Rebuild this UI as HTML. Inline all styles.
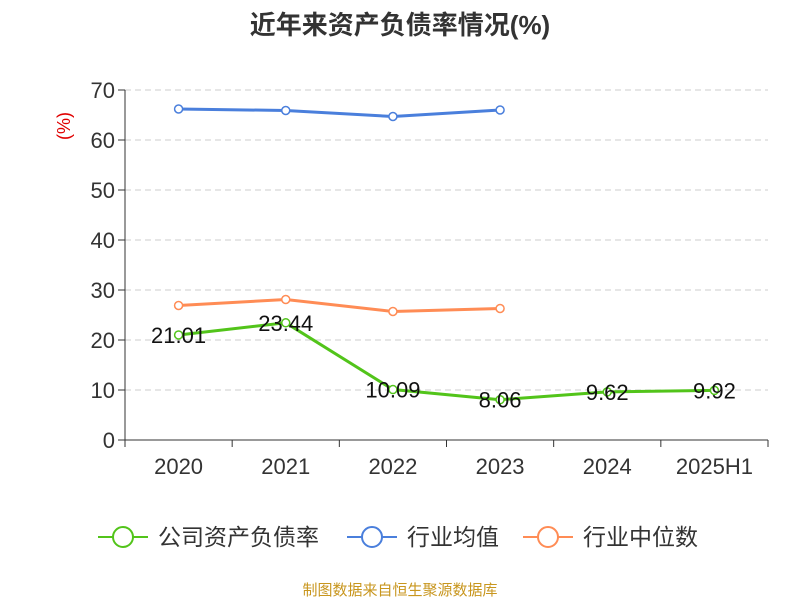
<!DOCTYPE html>
<html><head><meta charset="utf-8"><style>
body{margin:0;background:#fff;font-family:"Liberation Sans","Noto Sans CJK SC",sans-serif}
svg text{font-family:"Liberation Sans","Noto Sans CJK SC",sans-serif}
</style></head><body>
<svg id="c" width="800" height="600">
<text x="400" y="34" text-anchor="middle" font-size="26" font-weight="bold" fill="#333">近年来资产负债率情况(%)</text>
<text x="70" y="126" font-size="18" fill="#e00000" transform="rotate(-90 70 126)" text-anchor="middle">(%)</text>
<g id="grid"></g><g id="axes"></g><g id="series"></g>
<g>
<g><line x1="98" y1="537" x2="148" y2="537" stroke="#52c41a" stroke-width="2"/><circle cx="123" cy="537" r="10" fill="#fff" stroke="#52c41a" stroke-width="2"/><text x="158" y="545" font-size="23" fill="#333">公司资产负债率</text></g>
<g><line x1="347" y1="537" x2="397" y2="537" stroke="#4a7fdc" stroke-width="2"/><circle cx="372" cy="537" r="10" fill="#fff" stroke="#4a7fdc" stroke-width="2"/><text x="407" y="545" font-size="23" fill="#333">行业均值</text></g>
<g><line x1="523" y1="537" x2="573" y2="537" stroke="#ff8c55" stroke-width="2"/><circle cx="548" cy="537" r="10" fill="#fff" stroke="#ff8c55" stroke-width="2"/><text x="583" y="545" font-size="23" fill="#333">行业中位数</text></g>
</g>
<text x="400" y="595" text-anchor="middle" font-size="15" fill="#c8961e">制图数据来自恒生聚源数据库</text>
</svg>
<script>
const categories=["2020","2021","2022","2023","2024","2025H1"];
const companyValues=[21.01,23.44,10.09,8.06,9.62,9.92];
const industryAvg=[66.2,65.9,64.7,66.0];
const industryMedian=[26.9,28.1,25.7,26.3];
const yTicks=[0,10,20,30,40,50,60,70];
const NS="http://www.w3.org/2000/svg";
const x0=125,x1=768,y0=440,yTop=90,yMax=70;
const bw=(x1-x0)/categories.length;
const X=i=>x0+bw*(i+0.5);
const Y=v=>y0-(v/yMax)*(y0-yTop);
function mk(t,a,p){const e=document.createElementNS(NS,t);for(const k in a)e.setAttribute(k,a[k]);p.appendChild(e);return e;}
const grid=document.getElementById('grid'),axes=document.getElementById('axes'),ser=document.getElementById('series');
yTicks.forEach(v=>{
 if(v>0){const g=mk('line',{x1:x0,x2:x1,y1:Y(v),y2:Y(v),stroke:'#ccc','stroke-dasharray':'6,4'},grid);
 
 }
 const tk=mk('line',{x1:x0-7,x2:x0,y1:Y(v),y2:Y(v),stroke:'#333'},axes);
 
 
 const t=mk('text',{x:x0-10,y:Y(v)+8,'text-anchor':'end','font-size':22,fill:'#333'},axes);t.textContent=v;
 
 
});
const ya=mk('line',{x1:x0,x2:x0,y1:yTop,y2:y0,stroke:'#333'},axes);


const xa=mk('line',{x1:x0,x2:x1,y1:y0,y2:y0,stroke:'#333'},axes);


for(let i=0;i<=categories.length;i++){const t=mk('line',{x1:x0+bw*i,x2:x0+bw*i,y1:y0,y2:y0+7,stroke:'#333'},axes);
 
 }
categories.forEach((c,i)=>{const t=mk('text',{x:X(i),y:474,'text-anchor':'middle','font-size':22,fill:'#333'},axes);t.textContent=c;
 
 });
function line(vals,color,name,labels){
 const pl=mk('polyline',{points:vals.map((v,i)=>X(i)+','+Y(v)).join(' '),fill:'none',stroke:color,'stroke-width':3},ser);
 
 
 vals.forEach((v,i)=>{const c=mk('circle',{cx:X(i),cy:Y(v),r:4,fill:'#fff',stroke:color,'stroke-width':1.5},ser);
  
  
  if(labels){const t=mk('text',{x:X(i),y:Y(v)+8,'text-anchor':'middle','font-size':22,fill:'#111'},ser);t.textContent=v.toFixed(2);
   
   }
 });
}
line(industryAvg,'#4a7fdc','industry-avg',false);
line(industryMedian,'#ff8c55','industry-median',false);
line(companyValues,'#52c41a','company',true);
</script>
</body></html>
